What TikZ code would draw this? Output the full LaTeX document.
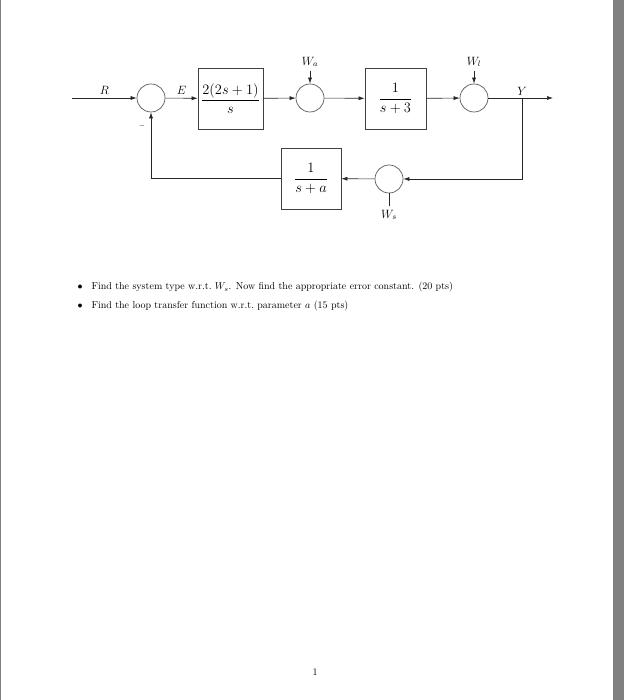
\documentclass[tikz,border=0pt]{standalone}
\usepackage{amsmath}
\usetikzlibrary{arrows.meta,positioning}
\begin{document}
\begin{tikzpicture}[x=1pt,y=-1pt,
  block/.style={draw=black!75,line width=0.7pt,minimum height=61pt,inner sep=2pt,font=\Large},
  sum/.style={draw=black!65,circle,minimum size=28pt,inner sep=0pt,line width=0.7pt},
  arr/.style={-{Latex[length=6pt,width=4pt]},line width=0.6pt,draw=black!85},
  lnk/.style={line width=0.6pt,draw=black!85},
  lbl/.style={font=\large}
]
\useasboundingbox (0,0) rectangle (624,700);
\fill[black!50] (0,0) rectangle (1.2,700);
\fill[black!50] (613,0) rectangle (624,700);

% forward path
\coordinate (in) at (72,98);
\node[sum] (s1) at (151,98) {};
\node[block,minimum width=65pt] (g1) at (230.5,98.5) {$\dfrac{2(2s+1)}{s}$};
\node[sum] (s2) at (310,98) {};
\node[block,minimum width=61pt] (g2) at (395.5,98.5) {$\dfrac{1}{s+3}$};
\node[sum] (s3) at (474,98) {};
\coordinate (br) at (522,98);
\coordinate (out) at (553,98);

% disturbances
\node[lbl] (wa) at (310,62) {$W_a$};
\node[lbl] (wl) at (474,62) {$W_l$};
\node[lbl] (ws) at (389,215) {$W_s$};

% feedback path
\node[sum] (s4) at (389,179) {};
\node[block,minimum width=60pt] (h) at (311,178.5) {$\dfrac{1}{s+a}$};
\node[font=\scriptsize] (minus) at (142,126) {$-$};

\draw[arr] (in) -- node[above,lbl]{$R$} (s1);
\draw[arr] (s1) -- node[above,lbl]{$E$} (g1);
\draw[arr] (g1) -- (s2);
\draw[arr] (s2) -- (g2);
\draw[arr] (g2) -- (s3);
\draw[arr] (s3) -- (out);
\node[lbl,above=-1pt of br] (ylab) {$Y$};
\draw[arr] (br) |- (s4.east);
\draw[arr] (s4) -- (h);
\draw[arr] (h.west) -| (s1.south);
\draw[arr] (wa) -- (s2);
\draw[arr] (wl) -- (s3);
\draw[lnk] (ws) -- (s4);

% questions
\node (b1) at (80,287) {$\bullet$};
\node[anchor=west] (q1) at (88,287) {Find the system type w.r.t.\ $W_s$. Now find the appropriate error constant. (20 pts)};
\node (b2) at (80,306) {$\bullet$};
\node[anchor=west] (q2) at (88,306) {Find the loop transfer function w.r.t.\ parameter $a$ (15 pts)};
\node (pg) at (315,672) {1};
\end{tikzpicture}
\end{document}
